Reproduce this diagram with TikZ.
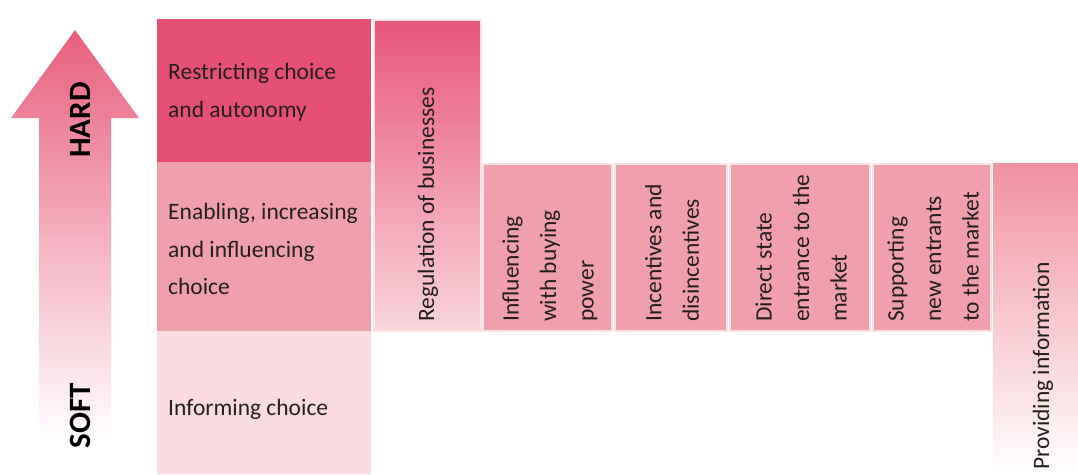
\documentclass[tikz,border=0pt]{standalone}
\usepackage{fontspec}
\setmainfont{Carlito}
\usetikzlibrary{positioning}
\definecolor{hardpink}{HTML}{E75075}
\definecolor{midpink}{HTML}{F0A0AC}
\definecolor{lightpink}{HTML}{FADCE0}
\definecolor{edgepink}{HTML}{FBE3E7}
\definecolor{arrowpink}{HTML}{E8607E}
\definecolor{regtop}{HTML}{E8557A}
\definecolor{regbottom}{HTML}{F9D6DB}
\definecolor{infotop}{HTML}{F0929F}
\definecolor{inktext}{HTML}{231F20}

\begin{document}
\begin{tikzpicture}[x=1pt,y=-1pt,inner sep=0pt,
  lbl/.style={align=left,text=inktext,font=\fontsize{23.5}{37.5}\selectfont},
  vlbl/.style={lbl,rotate=90,anchor=west},
  sidelbl/.style={rotate=90,font=\bfseries\fontsize{31}{31}\selectfont},
  colbox/.style={fill=midpink,draw=edgepink,line width=1.5pt}]
\useasboundingbox (0,0) rectangle (1078,474);
% hard / soft arrow
\shade[top color=arrowpink,bottom color=white] (39,440) -- (39,118) -- (11,118) -- (75,30)
  -- (139,118) -- (111,118) -- (111,440) -- cycle;
\node (hard) at (80,120) [sidelbl] {HARD};
\node (soft) at (80,416) [sidelbl] {SOFT};
% three levels
\fill[hardpink] (157,19) rectangle (371,162);
\fill[midpink] (157,162) rectangle (371,331);
\fill[lightpink] (157,331) rectangle (371,474);
\node (restrict) at (168,92) [lbl,anchor=west] {Restricting choice\\and autonomy};
\node (enable) at (168,249) [lbl,anchor=west] {Enabling, increasing\\and influencing\\choice};
\node (inform) at (168,409) [lbl,anchor=west] {Informing choice};
% tools
\shade[top color=regtop,bottom color=regbottom,draw=edgepink,line width=1.5pt] (374,20) rectangle (481,331);
\path[colbox] (483,164) rectangle (612,331);
\path[colbox] (615,164) rectangle (727,331);
\path[colbox] (730,164) rectangle (870,331);
\path[colbox] (873,164) rectangle (991,331);
\shade[top color=infotop,bottom color=white] (993,163) rectangle (1078,474);
\node (regulate) at (428,322) [vlbl] {Regulation of businesses};
\node (buying) at (550,322) [vlbl] {Influencing\\with buying\\power};
\node (incent) at (672,322) [vlbl] {Incentives and\\disincentives};
\node (direct) at (801,322) [vlbl] {Direct state\\entrance to the\\market};
\node (support) at (933,322) [vlbl] {Supporting\\new entrants\\to the market};
\node (provide) at (1043,470) [vlbl] {Providing information};
\end{tikzpicture}
\end{document}
